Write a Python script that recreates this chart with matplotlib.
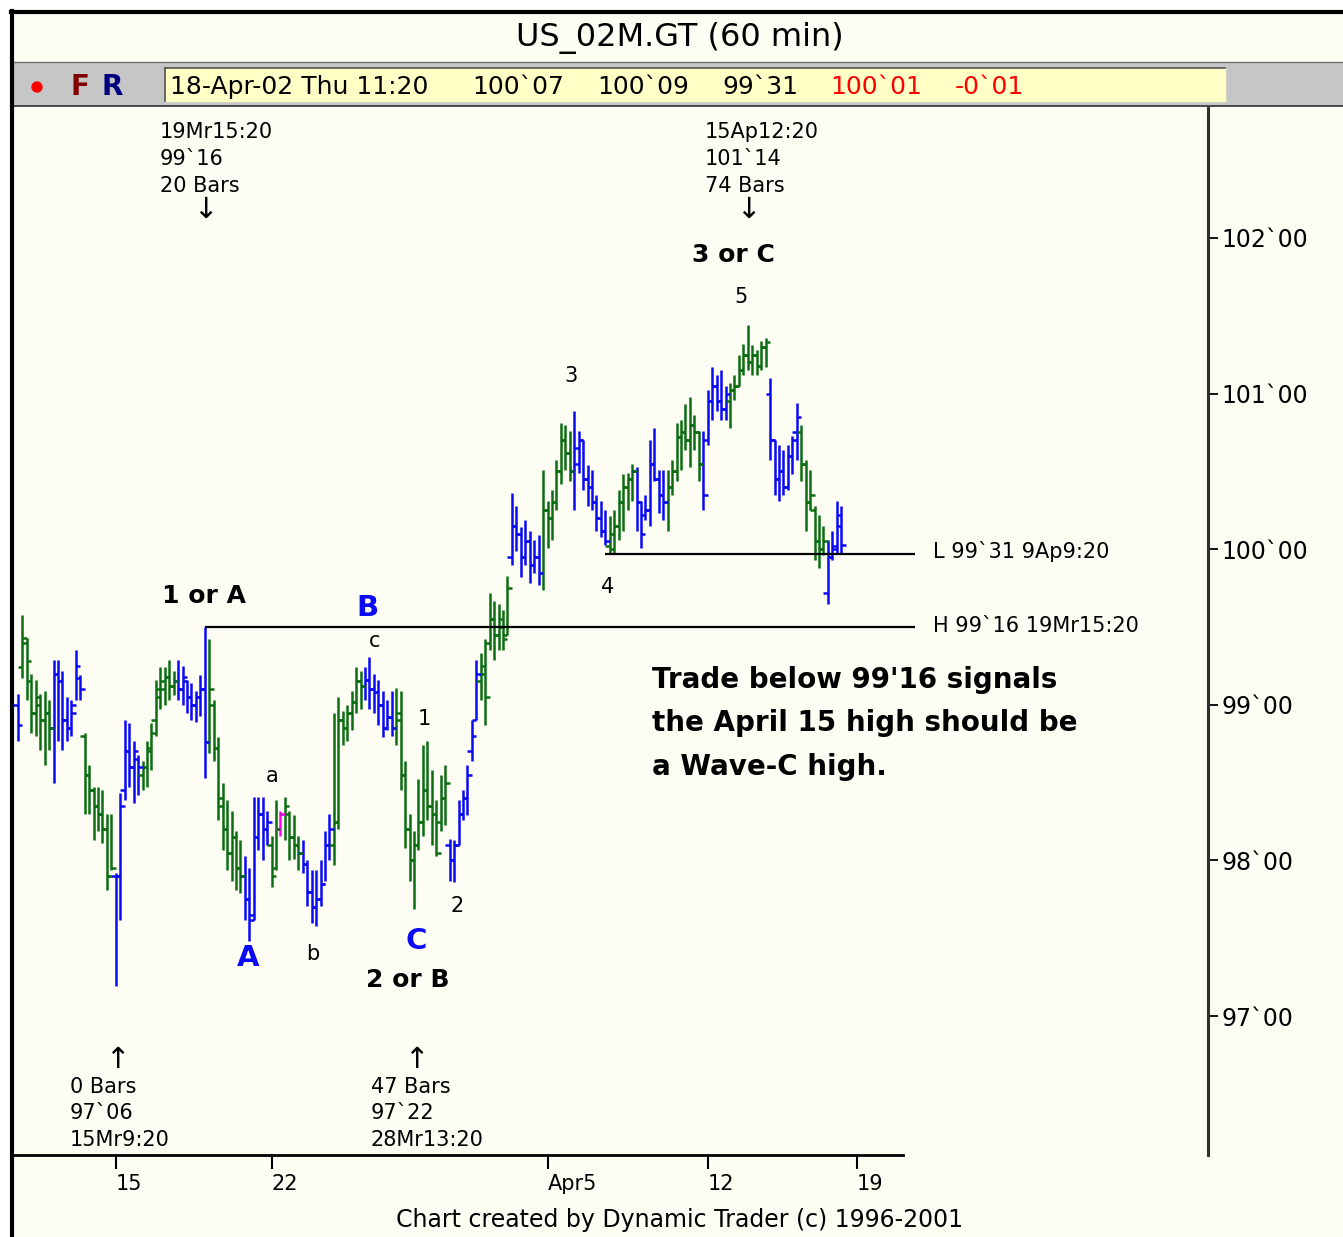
import matplotlib.pyplot as plt
from matplotlib.patches import Rectangle, Circle
import numpy as np

# 60 min bars, US 2-year note, 13-Mar-02 .. 18-Apr-02 11:20 (prices in points)
highs = [99.07, 99.58, 99.43, 99.20, 99.16, 99.07, 99.09, 99.03, 99.29, 99.29,
         99.22, 99.05, 99.03, 99.35, 99.19, 98.82, 98.61, 98.47, 98.47, 98.45,
         98.30, 98.30, 97.92, 98.43, 98.90, 98.88, 98.77, 98.68, 98.64, 98.77,
         98.88, 99.16, 99.24, 99.24, 99.29, 99.22, 99.29, 99.25, 99.16, 99.14,
         99.09, 99.19, 99.50, 99.42, 99.03, 98.79, 98.50, 98.39, 98.32, 98.19,
         98.13, 98.03, 97.95, 98.41, 98.41, 98.41, 98.32, 98.16, 98.39, 98.32,
         98.41, 98.32, 98.29, 98.16, 98.13, 98.00, 97.94, 97.94, 98.00, 98.19,
         98.30, 98.95, 99.05, 98.96, 99.00, 99.09, 99.24, 99.22, 99.24, 99.31,
         99.20, 99.16, 99.09, 99.03, 99.09, 99.11, 99.09, 98.64, 98.30, 98.19,
         98.52, 98.74, 98.77, 98.58, 98.39, 98.55, 98.61, 98.14, 98.13, 98.39,
         98.45, 98.61, 98.90, 99.29, 99.33, 99.42, 99.72, 99.67, 99.65, 99.61,
         99.83, 100.36, 100.28, 100.14, 100.19, 100.12, 100.06, 100.09, 100.51, 100.31,
         100.38, 100.57, 100.81, 100.80, 100.76, 100.89, 100.76, 100.70, 100.54, 100.51,
         100.35, 100.31, 100.25, 100.21, 100.25, 100.38, 100.48, 100.49, 100.55, 100.53,
         100.31, 100.35, 100.70, 100.78, 100.51, 100.51, 100.51, 100.57, 100.81, 100.83,
         100.93, 100.98, 100.86, 100.76, 100.76, 101.02, 101.17, 101.12, 101.15, 101.05,
         101.07, 101.12, 101.25, 101.32, 101.44, 101.31, 101.28, 101.34, 101.36, 101.10,
         100.70, 100.67, 100.64, 100.67, 100.73, 100.94, 100.80, 100.57, 100.51, 100.28,
         100.22, 100.15, 100.06, 100.12, 100.31, 100.28]

lows = [98.77, 99.17, 99.03, 98.82, 98.80, 98.71, 98.61, 98.71, 98.50, 98.77,
        98.71, 98.77, 98.80, 99.03, 99.03, 98.30, 98.30, 98.13, 98.19, 98.11,
        97.81, 97.94, 97.19, 97.62, 98.39, 98.47, 98.37, 98.42, 98.45, 98.47,
        98.58, 98.80, 98.97, 99.00, 99.03, 99.06, 99.03, 99.00, 98.95, 98.90,
        98.89, 98.93, 98.53, 98.69, 98.64, 98.26, 98.07, 97.94, 97.87, 97.81,
        97.79, 97.62, 97.48, 97.62, 98.07, 98.00, 98.10, 97.83, 97.94, 98.16,
        98.13, 98.00, 98.01, 97.94, 97.92, 97.71, 97.60, 97.58, 97.71, 97.87,
        98.00, 97.97, 98.20, 98.74, 98.77, 98.84, 98.95, 98.97, 99.03, 98.97,
        98.95, 98.87, 98.79, 98.84, 98.80, 98.74, 98.45, 98.08, 97.87, 97.69,
        98.07, 98.16, 98.26, 98.10, 98.03, 98.19, 98.23, 97.87, 97.86, 98.10,
        98.26, 98.29, 98.64, 98.90, 99.03, 98.87, 99.35, 99.29, 99.35, 99.35,
        99.45, 99.90, 99.99, 99.82, 99.90, 99.78, 99.85, 99.77, 99.74, 100.01,
        100.06, 100.25, 100.42, 100.51, 100.44, 100.25, 100.49, 100.38, 100.28, 100.25,
        100.12, 100.08, 100.03, 99.97, 99.97, 100.06, 100.12, 100.25, 100.31, 100.12,
        100.01, 100.19, 100.15, 100.44, 100.23, 100.19, 100.12, 100.35, 100.44, 100.51,
        100.64, 100.53, 100.64, 100.44, 100.25, 100.67, 100.83, 100.89, 100.83, 100.83,
        100.78, 100.96, 101.05, 101.12, 101.15, 101.12, 101.12, 101.15, 101.17, 100.57,
        100.35, 100.31, 100.35, 100.38, 100.48, 100.57, 100.44, 100.12, 100.25, 99.93,
        99.88, 99.96, 99.65, 99.93, 99.97, 99.97]

opens = [99.00, 99.24, 99.40, 99.15, 98.95, 99.00, 98.90, 98.95, 98.85, 99.20,
         99.15, 98.90, 98.85, 99.00, 99.17, 98.80, 98.55, 98.45, 98.35, 98.30,
         98.20, 97.90, 97.90, 97.90, 98.45, 98.70, 98.60, 98.65, 98.55, 98.60,
         98.70, 98.90, 99.05, 99.10, 99.18, 99.12, 99.15, 99.10, 99.15, 99.05,
         99.00, 99.05, 99.10, 98.76, 99.00, 98.72, 98.40, 98.20, 98.05, 98.15,
         97.95, 97.90, 97.75, 97.65, 98.15, 98.30, 98.20, 98.10, 97.95, 98.20,
         98.30, 98.30, 98.15, 98.10, 98.05, 97.98, 97.80, 97.70, 97.75, 97.85,
         98.10, 98.10, 98.25, 98.90, 98.85, 98.95, 99.02, 99.15, 99.12, 99.16,
         99.10, 99.08, 99.00, 98.85, 98.92, 98.85, 98.90, 98.55, 98.20, 98.00,
         98.10, 98.25, 98.45, 98.35, 98.30, 98.25, 98.40, 98.10, 98.00, 98.10,
         98.30, 98.40, 98.70, 98.90, 99.15, 99.20, 99.40, 99.55, 99.45, 99.50,
         99.45, 99.95, 100.15, 100.10, 99.95, 100.05, 99.90, 99.95, 99.85, 100.25,
         100.20, 100.30, 100.50, 100.70, 100.62, 100.50, 100.65, 100.70, 100.45, 100.40,
         100.30, 100.20, 100.12, 100.02, 100.00, 100.15, 100.30, 100.40, 100.45, 100.50,
         100.30, 100.22, 100.25, 100.55, 100.45, 100.35, 100.30, 100.40, 100.50, 100.72,
         100.75, 100.70, 100.80, 100.75, 100.55, 100.70, 100.95, 101.05, 100.95, 100.90,
         100.95, 101.02, 101.05, 101.15, 101.25, 101.20, 101.25, 101.18, 101.30, 101.00,
         100.70, 100.45, 100.50, 100.40, 100.60, 100.75, 100.75, 100.55, 100.30, 100.25,
         100.05, 100.00, 99.72, 99.95, 100.00, 100.22]

closes = [98.87, 99.43, 99.28, 98.95, 99.05, 98.90, 98.95, 98.85, 99.20, 99.15,
          98.90, 98.85, 98.95, 99.25, 99.10, 98.55, 98.45, 98.35, 98.30, 98.20,
          97.90, 97.95, 97.90, 98.35, 98.70, 98.60, 98.70, 98.60, 98.60, 98.72,
          98.82, 99.10, 99.15, 99.18, 99.12, 99.15, 99.10, 99.18, 99.05, 99.00,
          99.05, 99.10, 98.76, 99.10, 98.72, 98.35, 98.20, 98.05, 98.15, 97.95,
          97.90, 97.75, 97.62, 98.15, 98.30, 98.20, 98.25, 97.90, 98.20, 98.30,
          98.35, 98.15, 98.10, 98.05, 97.98, 97.80, 97.70, 97.75, 97.85, 98.10,
          98.20, 98.25, 98.90, 98.85, 98.95, 99.02, 99.15, 99.12, 99.16, 99.10,
          99.08, 99.00, 98.85, 98.92, 98.85, 98.95, 98.55, 98.20, 98.00, 98.10,
          98.25, 98.45, 98.35, 98.30, 98.05, 98.40, 98.50, 98.00, 98.10, 98.30,
          98.40, 98.55, 98.80, 99.20, 99.25, 99.05, 99.55, 99.45, 99.55, 99.42,
          99.75, 100.15, 100.10, 99.95, 100.05, 99.90, 99.95, 99.85, 100.25, 100.20,
          100.30, 100.50, 100.70, 100.62, 100.50, 100.55, 100.70, 100.45, 100.40, 100.30,
          100.20, 100.12, 100.05, 100.10, 100.15, 100.30, 100.40, 100.45, 100.50, 100.30,
          100.10, 100.25, 100.55, 100.45, 100.35, 100.30, 100.40, 100.50, 100.72, 100.75,
          100.70, 100.80, 100.75, 100.55, 100.35, 100.95, 101.05, 100.95, 100.90, 101.00,
          101.02, 101.05, 101.15, 101.25, 101.20, 101.25, 101.18, 101.30, 101.33, 100.70,
          100.45, 100.50, 100.40, 100.60, 100.70, 100.85, 100.55, 100.30, 100.35, 100.05,
          100.00, 100.05, 99.95, 100.02, 100.15, 100.03]

# bar colour runs: (code, number of bars)
color_runs = [('b', 1), ('g', 7), ('b', 7), ('g', 7), ('b', 6), ('g', 8), ('b', 7),
              ('g', 8), ('b', 6), ('g', 2), ('m', 1), ('g', 4), ('b', 7), ('g', 7),
              ('b', 7), ('g', 12), ('b', 7), ('g', 7), ('b', 7), ('g', 7), ('b', 8),
              ('g', 6), ('b', 7), ('g', 8), ('b', 6), ('g', 9), ('b', 7), ('g', 6),
              ('b', 4)]

day_ticks = [22, 57, 119, 155, 188.5]
day_labels = ['15', '22', 'Apr5', '12', '19']
price_ticks = [97, 98, 99, 100, 101, 102]

hi_level = 99.5        # 99`16  19Mr15:20
lo_level = 99.96875    # 99`31  9Ap9:20

W, H = 1343, 1237
ivory = '#FDFDF4'
palette = {'g': '#0B6E12', 'b': '#0A0AF5', 'm': '#FF00FF'}
cols = [palette[c] for c, n in color_runs for _ in range(n)]

fig = plt.figure(figsize=(W / 100, H / 100), dpi=100)
fig.patch.set_facecolor('white')

# background / header layer in pixel coords
bg = fig.add_axes([0, 0, 1, 1], zorder=0)
bg.set_xlim(0, W)
bg.set_ylim(H, 0)
bg.axis('off')
bg.add_patch(Rectangle((12, 12), W, H, color=ivory))
bg.add_patch(Rectangle((12, 63), W, 42, color='#C6C6C6'))
bg.add_patch(Rectangle((165, 68), 1060, 33, color='#FFFFC6'))
bg.plot([165, 1225], [68, 68], color='#505050', lw=1.2)
bg.plot([165, 165], [68, 101], color='#505050', lw=1.2)
bg.plot([12, W], [62, 62], color='#707070', lw=1)
bg.plot([12, W], [106, 106], color='#303030', lw=1.2)
bg.plot([12, 12], [11, H], color='black', lw=3)
bg.plot([11, W], [12, 12], color='black', lw=3)

bg.text(680, 38, 'US_02M.GT (60 min)', fontsize=23, ha='center', va='center')
bg.add_patch(Circle((37, 87), 5, color='#FF0000'))
bg.text(80, 87, 'F', fontsize=20, fontweight='bold', color='#800000', ha='center', va='center')
bg.text(112, 87, 'R', fontsize=20, fontweight='bold', color='#000080', ha='center', va='center')
header = [('18-Apr-02 Thu 11:20', 170, 'black'), ('100`07', 472, 'black'),
          ('100`09', 597, 'black'), ('99`31', 722, 'black'),
          ('100`01', 830, '#FF0000'), ('-0`01', 955, '#FF0000')]
for s, x, c in header:
    bg.text(x, 87, s, fontsize=18, color=c, ha='left', va='center')

# annotations
small = [('19Mr15:20', 160, 132), ('99`16', 160, 159), ('20 Bars', 160, 186),
         ('15Ap12:20', 705, 132), ('101`14', 705, 159), ('74 Bars', 705, 186),
         ('0 Bars', 70, 1087), ('97`06', 70, 1113), ('15Mr9:20', 70, 1140),
         ('47 Bars', 371, 1087), ('97`22', 371, 1113), ('28Mr13:20', 371, 1140),
         ('L 99`31 9Ap9:20', 933, 551), ('H 99`16 19Mr15:20', 933, 626)]
for s, x, y in small:
    bg.text(x, y, s, fontsize=15, ha='left', va='center')
for s, x, y in [('↓', 205, 210), ('↓', 748, 210), ('↑', 117, 1060), ('↑', 416, 1060)]:
    bg.text(x, y, s, fontsize=21, ha='center', va='center')
marks = [('5', 741, 297), ('3', 571, 376), ('4', 608, 587), ('c', 375, 641),
         ('1', 424, 719), ('a', 272, 776), ('2', 457, 906), ('b', 313, 954)]
for s, x, y in marks:
    bg.text(x, y, s, fontsize=15, ha='center', va='center')
for s, x, y in [('3 or C', 733, 255), ('1 or A', 204, 596), ('2 or B', 408, 980)]:
    bg.text(x, y, s, fontsize=18, fontweight='bold', ha='center', va='center')
for s, x, y in [('B', 367, 608), ('A', 248, 958), ('C', 416, 941)]:
    bg.text(x, y, s, fontsize=21, fontweight='bold', color='#0A0AF5', ha='center', va='center')
for s, y in [('Trade below 99\'16 signals', 680), ('the April 15 high should be', 723),
             ('a Wave-C high.', 767)]:
    bg.text(652, y, s, fontsize=20, fontweight='bold', ha='left', va='center')
bg.text(680, 1220, 'Chart created by Dynamic Trader (c) 1996-2001', fontsize=17,
        ha='center', va='center')

# price chart
ax = fig.add_axes([13 / W, 1 - 1155 / H, (1208 - 13) / W, (1155 - 108) / H], zorder=1)
ax.set_facecolor('none')
ax.set_xlim(-1.1, 267.4)
ax.set_ylim(96.107, 102.835)

x = np.arange(len(highs))
ax.vlines(x, lows, highs, colors=cols, lw=1.8)
ax.hlines(opens, x - 1.0, x, colors=cols, lw=1.8)
ax.hlines(closes, x, x + 1.0, colors=cols, lw=1.8)

ax.hlines(hi_level, 42, 201.6, color='black', lw=1.6)
ax.hlines(lo_level, 132, 201.6, color='black', lw=1.6)

for side in ['left', 'top']:
    ax.spines[side].set_visible(False)
ax.spines['bottom'].set_bounds(-1.1, 198.9)
ax.spines['bottom'].set_linewidth(2)
ax.spines['right'].set_linewidth(2.2)
ax.spines['right'].set_color('#303030')

ax.yaxis.tick_right()
ax.set_yticks(price_ticks, [f'{p}`00' for p in price_ticks])
ax.tick_params(axis='y', length=7, width=1.3, pad=3, labelsize=17)
ax.set_xticks(day_ticks, day_labels)
ax.tick_params(axis='x', length=10, width=1.5, pad=4, labelsize=15)
for lbl in ax.get_xticklabels():
    lbl.set_ha('left')

fig.savefig('out.png', dpi=100)
